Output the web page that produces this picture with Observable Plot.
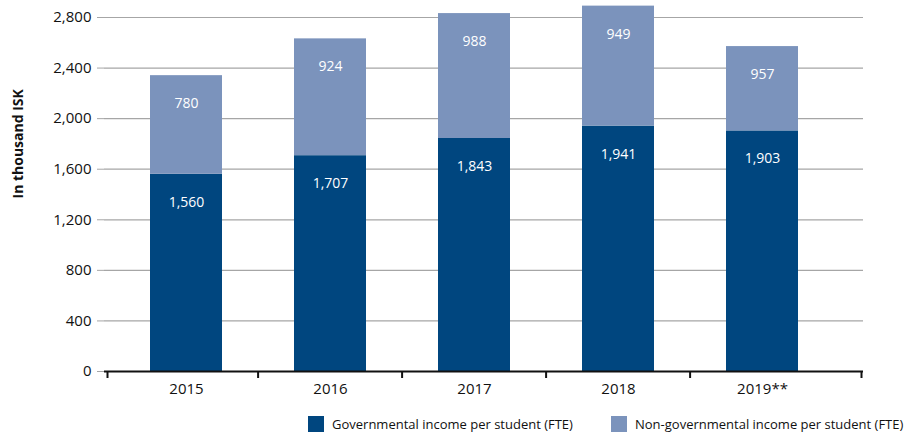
<!DOCTYPE html>
<html>
<head>
<meta charset="utf-8">
<script src="https://cdn.jsdelivr.net/npm/d3@7"></script>
<script src="https://cdn.jsdelivr.net/npm/@observablehq/plot@0.6"></script>
<style>
  html, body { margin: 0; padding: 0; background: #fff; }
  #wrap { position: relative; width: 908px; height: 432px; font-family: "Open Sans", sans-serif; }
  .leg { position: absolute; top: 415px; font-size: 13px; color: #111; display: flex; align-items: center; white-space: nowrap; }
  .sw { width: 16px; height: 16px; margin-right: 8px; display: inline-block; }
</style>
</head>
<body>
<div id="wrap"></div>
<script>
const years = ["2015", "2016", "2017", "2018", "2019**"];
const governmental = [1560, 1707, 1843, 1941, 1903];
// bar heights of the light segment as drawn in the picture (2019 drawn shorter than its label)
const nonGovernmental = [780, 924, 988, 949, 667];
const nonGovernmentalLabels = [780, 924, 988, 949, 957];
const seriesNames = ["Governmental income per student (FTE)", "Non-governmental income per student (FTE)"];
const seriesColors = ["#00467f", "#7b93bc"];
const yTicks = [0, 400, 800, 1200, 1600, 2000, 2400, 2800];
const yLabel = "In thousand ISK";

const rows = [];
years.forEach((y, i) => {
  rows.push({year: y, series: seriesNames[0], value: governmental[i], label: governmental[i]});
  rows.push({year: y, series: seriesNames[1], value: nonGovernmental[i], label: nonGovernmentalLabels[i]});
});

const chart = Plot.plot({
  width: 908,
  height: 405,
  marginLeft: 104,
  marginRight: 45,
  marginTop: 17,
  marginBottom: 34,
  style: {fontFamily: "Open Sans, sans-serif", background: "transparent"},
  x: {type: "band", domain: years, range: [148, 799], paddingInner: 0.503, paddingOuter: 0, align: 0.5},
  y: {domain: [0, 2800]},
  color: {domain: seriesNames, range: seriesColors},
  marks: [
    Plot.gridY(yTicks, {stroke: "#a6a6a6", strokeOpacity: 1, strokeWidth: 1.2}),
    Plot.axisY(yTicks, {tickSize: 7, stroke: "#a6a6a6", strokeOpacity: 1, fill: "#111", tickPadding: 6, fontSize: 15, tickFormat: d3.format(","), label: null}),
    Plot.barY(rows, Plot.stackY({x: "year", y: "value", fill: "series", order: seriesNames})),
    Plot.textY(rows, Plot.stackY2({x: "year", y: "value", z: "series", order: seriesNames, text: d => d3.format(",")(d.label), fill: "white", fontSize: 14, dy: 28})),
    Plot.ruleY([0], {stroke: "#111", strokeWidth: 2}),
    Plot.ruleX(years.slice(0, 1), {x: d => d, y1: () => 0, y2: () => 0, dx: -79, insetTop: 7, stroke: "#111", strokeWidth: 2}),
    Plot.ruleX(years.slice(1), {x: d => d, y1: () => 0, y2: () => 0, dx: -72.4, insetTop: 7, stroke: "#111", strokeWidth: 2}),
    Plot.ruleX(years.slice(-1), {x: d => d, y1: () => 0, y2: () => 0, dx: 99, insetTop: 7, stroke: "#111", strokeWidth: 2}),
    Plot.axisX({tickSize: 0, tickPadding: 12, fontSize: 15, fill: "#111", label: null}),
    Plot.text([yLabel], {frameAnchor: "left", text: d => d, rotate: -90, dx: -86, dy: 4, fontSize: 14, fontWeight: "bold", fill: "#111"})
  ]
});

const wrap = document.getElementById("wrap");
wrap.appendChild(chart);

const legPos = [308, 611];
seriesNames.forEach((name, i) => {
  const div = document.createElement("div");
  div.className = "leg";
  div.style.left = legPos[i] + "px";
  const sw = document.createElement("span");
  sw.className = "sw";
  sw.style.background = seriesColors[i];
  const t = document.createElement("span");
  t.textContent = name;
  div.appendChild(sw);
  div.appendChild(t);
  wrap.appendChild(div);
});
</script>
</body>
</html>
